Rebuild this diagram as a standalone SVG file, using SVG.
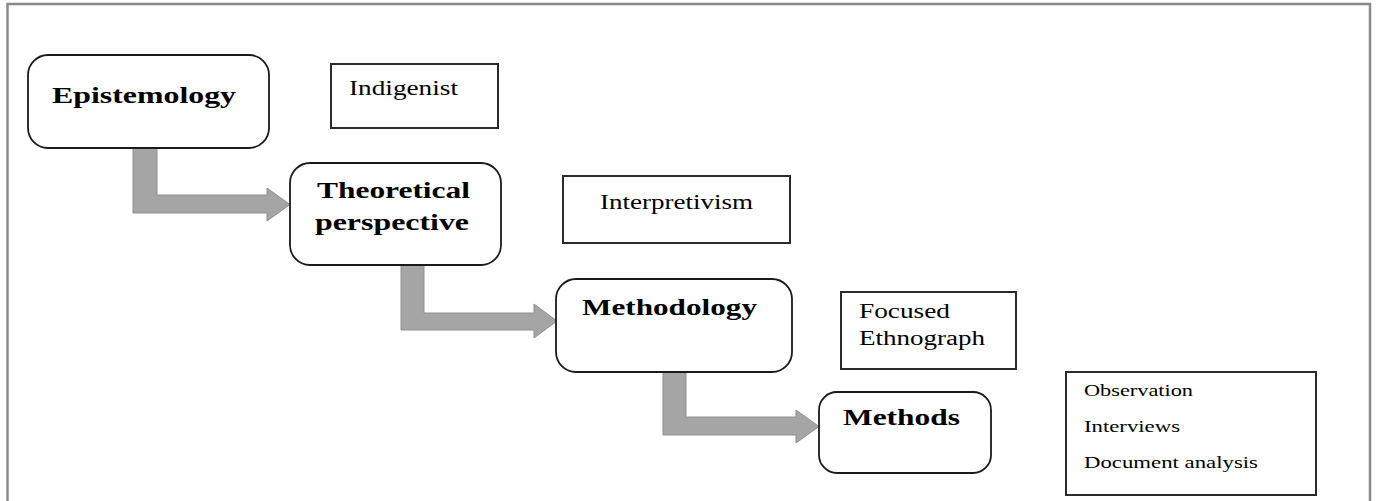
<svg xmlns="http://www.w3.org/2000/svg" width="1377" height="501" viewBox="0 0 1377 501">
  <style>
    .frame { fill: none; stroke: #8a8a8a; stroke-width: 2.5; }
    .stage { fill: #ffffff; stroke: #1a1a1a; stroke-width: 1.8; }
    .note { fill: #ffffff; stroke: #2b2b2b; stroke-width: 2; }
    .flow { fill: #a5a5a5; stroke: #8f8f8f; stroke-width: 1; }
    .head { font-family: "Liberation Serif", "Times New Roman", serif; font-weight: bold; font-size: 23px; fill: #000; }
    .body { font-family: "Liberation Serif", "Times New Roman", serif; font-size: 20px; fill: #000; }
    .small { font-family: "Liberation Serif", "Times New Roman", serif; font-size: 17px; fill: #000; }
  </style>

  <rect width="1377" height="501" fill="#ffffff"/>
  <!-- outer frame, open at the bottom -->
  <path class="frame" d="M7.5,501 V4 H1370 V501"/>

  <!-- elbow arrows between the stages -->
  <g id="connectors">
    <polygon class="flow" points="133,148 157,148 157,195 267,195 267,188 290,204.5 267,221 267,213 133,213"/>
    <polygon class="flow" points="401,265 424,265 424,313 534,313 534,304 557,321 534,338 534,330 401,330"/>
    <polygon class="flow" points="663,372 686,372 686,417 796,417 796,410 819,426.5 796,443 796,435 663,435"/>
  </g>

  <g id="epistemology">
    <rect class="stage" x="28" y="55" width="241" height="93" rx="20"/>
    <text class="head" x="52" y="103" textLength="184" lengthAdjust="spacingAndGlyphs">Epistemology</text>
  </g>

  <g id="indigenist">
    <rect class="note" x="331" y="64" width="167" height="64"/>
    <text class="body" x="349" y="95" textLength="109" lengthAdjust="spacingAndGlyphs">Indigenist</text>
  </g>

  <g id="theoretical-perspective">
    <rect class="stage" x="290" y="163" width="211" height="102" rx="20"/>
    <text class="head" x="317" y="198" textLength="153" lengthAdjust="spacingAndGlyphs">Theoretical</text>
    <text class="head" x="315" y="230" textLength="154" lengthAdjust="spacingAndGlyphs">perspective</text>
  </g>

  <g id="interpretivism">
    <rect class="note" x="563" y="176" width="227" height="67"/>
    <text class="body" x="600" y="209" textLength="153" lengthAdjust="spacingAndGlyphs">Interpretivism</text>
  </g>

  <g id="methodology">
    <rect class="stage" x="556" y="279" width="236" height="93" rx="20"/>
    <text class="head" x="582" y="315" textLength="175" lengthAdjust="spacingAndGlyphs">Methodology</text>
  </g>

  <g id="focused-ethnograph">
    <rect class="note" x="841" y="292" width="175" height="77"/>
    <text class="body" x="859" y="318" textLength="91" lengthAdjust="spacingAndGlyphs">Focused</text>
    <text class="body" x="859" y="345" textLength="126" lengthAdjust="spacingAndGlyphs">Ethnograph</text>
  </g>

  <g id="methods">
    <rect class="stage" x="819" y="392" width="172" height="81" rx="18"/>
    <text class="head" x="843" y="425" textLength="117" lengthAdjust="spacingAndGlyphs">Methods</text>
  </g>

  <g id="method-list">
    <rect class="note" x="1066" y="372" width="250" height="123"/>
    <text class="small" x="1084" y="396" textLength="109" lengthAdjust="spacingAndGlyphs">Observation</text>
    <text class="small" x="1084" y="432" textLength="96" lengthAdjust="spacingAndGlyphs">Interviews</text>
    <text class="small" x="1084" y="468" textLength="174" lengthAdjust="spacingAndGlyphs">Document analysis</text>
  </g>
</svg>
